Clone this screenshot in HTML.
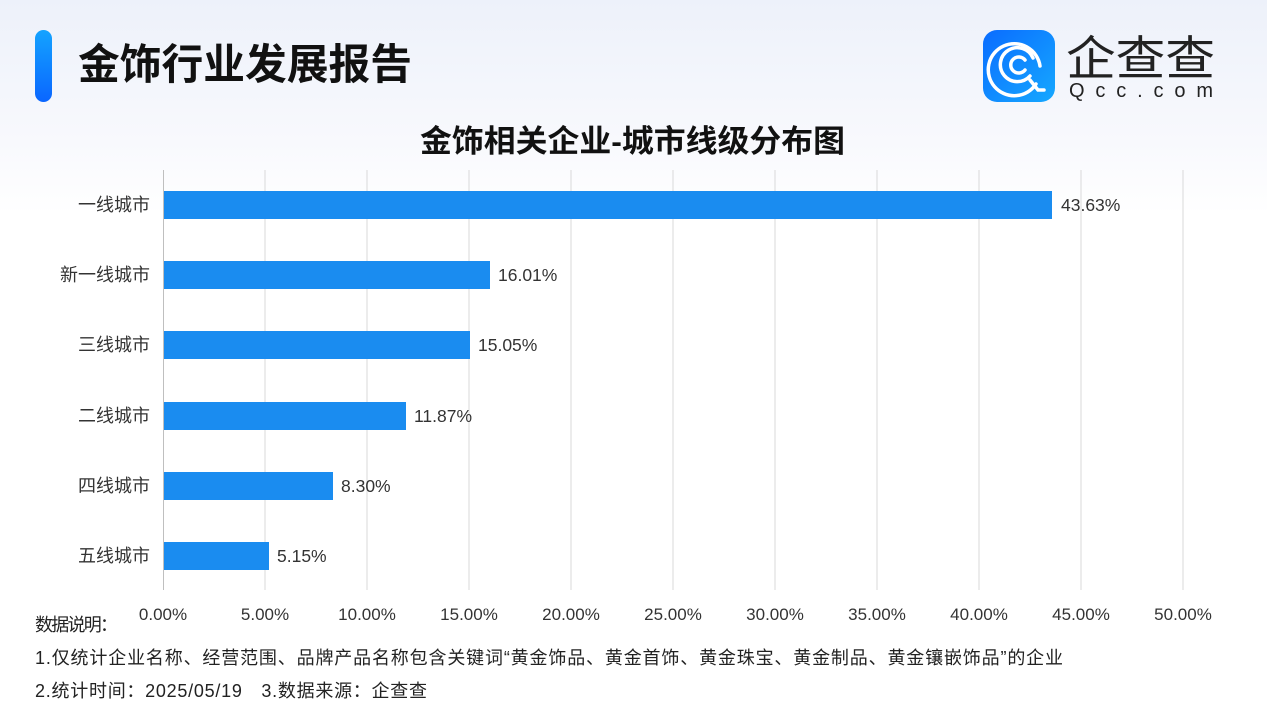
<!DOCTYPE html>
<html><head><meta charset="utf-8"><style>
body{margin:0;width:1267px;height:713px;overflow:hidden;background:#fff;font-family:"Liberation Sans","Noto Sans CJK SC",sans-serif;}
</style></head><body>
<svg width="1267" height="713" xmlns="http://www.w3.org/2000/svg" font-family="Liberation Sans, Noto Sans CJK SC, sans-serif">
<defs>
<linearGradient id="bg" x1="0" y1="0" x2="0" y2="1"><stop offset="0" stop-color="#edf1fa"/><stop offset="0.2" stop-color="#f8f9fd"/><stop offset="0.3" stop-color="#ffffff"/></linearGradient>
<linearGradient id="acc" x1="0" y1="0" x2="0" y2="1"><stop offset="0" stop-color="#14a3ff"/><stop offset="1" stop-color="#0a66ff"/></linearGradient>
<linearGradient id="lg" x1="0" y1="0" x2="1" y2="1"><stop offset="0" stop-color="#0a6cff"/><stop offset="1" stop-color="#16a8ff"/></linearGradient>
</defs>
<rect width="1267" height="713" fill="url(#bg)"/>
<rect x="35" y="30" width="17" height="72" rx="8.5" fill="url(#acc)"/>
<text x="78" y="79" font-size="42" font-weight="bold" fill="#111" textLength="334" lengthAdjust="spacingAndGlyphs">金饰行业发展报告</text>
<rect x="983" y="30" width="72" height="72" rx="14" fill="url(#lg)"/>
<g fill="none" stroke="#fff" stroke-width="3.5" stroke-linecap="round">
<path d="M1036 84 A26 26 0 1 1 1040 66"/>
<path d="M1030 76 A17 17 0 1 1 1033 58"/>
<path d="M1025 70 A8 8 0 1 1 1025 60"/>
<path d="M1030 80 L1038 90 L1044 90"/>
</g>
<text x="1066" y="75" font-size="47" fill="#222" textLength="149" lengthAdjust="spacingAndGlyphs">企查查</text>
<text x="1069" y="97" font-size="20" fill="#222" textLength="144">Qcc.com</text>
<text x="420" y="152" font-size="31" font-weight="bold" fill="#111" textLength="425" lengthAdjust="spacingAndGlyphs">金饰相关企业-城市线级分布图</text>
<g stroke="#d9d9d9" stroke-width="1">
<line x1="265" y1="170" x2="265" y2="590"/><line x1="367" y1="170" x2="367" y2="590"/><line x1="469" y1="170" x2="469" y2="590"/><line x1="571" y1="170" x2="571" y2="590"/><line x1="673" y1="170" x2="673" y2="590"/><line x1="775" y1="170" x2="775" y2="590"/><line x1="877" y1="170" x2="877" y2="590"/><line x1="979" y1="170" x2="979" y2="590"/><line x1="1081" y1="170" x2="1081" y2="590"/><line x1="1183" y1="170" x2="1183" y2="590"/>
</g>
<line x1="163.5" y1="170" x2="163.5" y2="590" stroke="#bfbfbf"/>
<g fill="#1a8cf0">
<rect x="164" y="191" width="888" height="28"/>
<rect x="164" y="261" width="326" height="28"/>
<rect x="164" y="331" width="306" height="28"/>
<rect x="164" y="402" width="242" height="28"/>
<rect x="164" y="472" width="169" height="28"/>
<rect x="164" y="542" width="105" height="28"/>
</g>
<g font-size="17.5" fill="#333">
<text x="1061" y="211">43.63%</text><text x="498" y="281">16.01%</text><text x="478" y="351">15.05%</text><text x="414" y="422">11.87%</text><text x="341" y="492">8.30%</text><text x="277" y="562">5.15%</text>
</g>
<g font-size="18" fill="#333" text-anchor="end">
<text x="150" y="211">一线城市</text><text x="150" y="281">新一线城市</text><text x="150" y="351">三线城市</text><text x="150" y="422">二线城市</text><text x="150" y="492">四线城市</text><text x="150" y="562">五线城市</text>
</g>
<g font-size="17" fill="#333" text-anchor="middle">
<text x="163" y="620">0.00%</text><text x="265" y="620">5.00%</text><text x="367" y="620">10.00%</text><text x="469" y="620">15.00%</text><text x="571" y="620">20.00%</text><text x="673" y="620">25.00%</text><text x="775" y="620">30.00%</text><text x="877" y="620">35.00%</text><text x="979" y="620">40.00%</text><text x="1081" y="620">45.00%</text><text x="1183" y="620">50.00%</text>
</g>
<g font-size="18" fill="#222">
<text x="35" y="631" textLength="83">数据说明：</text>
<text x="35" y="664" textLength="1028">1.仅统计企业名称、经营范围、品牌产品名称包含关键词“黄金饰品、黄金首饰、黄金珠宝、黄金制品、黄金镶嵌饰品”的企业</text>
<text x="35" y="697" textLength="392">2.统计时间：2025/05/19　3.数据来源：企查查</text>
</g>
</svg>
</body></html>
